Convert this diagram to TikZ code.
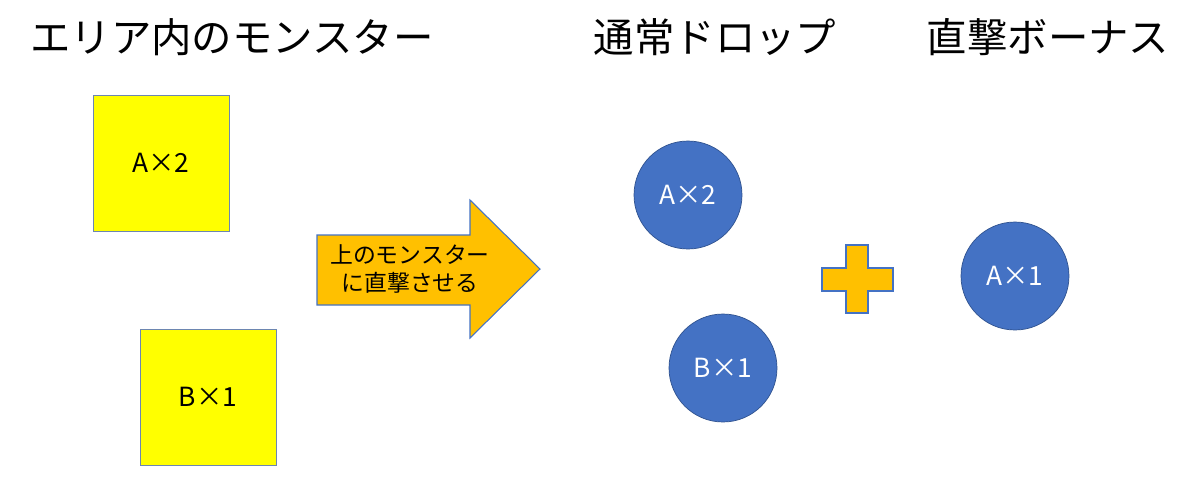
\documentclass[tikz,border=0pt]{standalone}
\usepackage{fontspec}
\setmainfont{Noto Sans CJK JP}
\usetikzlibrary{positioning}

\definecolor{boxyellow}{HTML}{FFFF00}
\definecolor{dropblue}{HTML}{4472C4}
\definecolor{edgeblue}{HTML}{2F528F}
\definecolor{arrowgold}{HTML}{FFC000}

\tikzset{
  heading/.style={font=\fontsize{23}{28}\selectfont, inner sep=0pt},
  monster/.style={draw=edgeblue!70, fill=boxyellow, minimum size=2.72cm, inner sep=0pt,
    font=\fontsize{15}{18}\selectfont},
  drop/.style={circle, draw=edgeblue, fill=dropblue, minimum size=2.16cm, inner sep=0pt,
    text=white, font=\fontsize{15}{18}\selectfont},
  goldshape/.style={draw=dropblue, fill=arrowgold, line width=0.6pt}
}

\begin{document}
\begin{tikzpicture}[x=0.02cm, y=-0.02cm]
        \useasboundingbox[fill=white] (0,0) rectangle (1200,501);

        % Headings
        \node[heading] (hArea) at (232,37) {エリア内のモンスター};
        \node[heading] (hDrop) at (715,37) {通常ドロップ};
        \node[heading] (hBonus) at (1048,37) {直撃ボーナス};

        % Monsters in the area
        \node[monster] (mA) at (161,163) {A×2};
        \node[monster] (mB) at (208,397) {B×1};

        % Big arrow
        \draw[goldshape] (317,235) -- (470,235) -- (470,200) -- (540,269)
            -- (470,338) -- (470,305) -- (317,305) -- cycle;
        \node[font=\fontsize{13}{16}\selectfont, align=center] (hit) at (410,269)
            {上のモンスター\\に直撃させる};

        % Normal drop
        \node[drop] (dA) at (688,195) {A×2};
        \node[drop] (dB) at (723,368) {B×1};

        % Plus sign
        \draw[goldshape] (846,245) -- (868,245) -- (868,268) -- (893,268) -- (893,291)
            -- (868,291) -- (868,313) -- (846,313) -- (846,291) -- (822,291)
            -- (822,268) -- (846,268) -- cycle;

        % Direct hit bonus
        \node[drop] (bA) at (1015,276) {A×1};
    \end{tikzpicture}
\end{document}
